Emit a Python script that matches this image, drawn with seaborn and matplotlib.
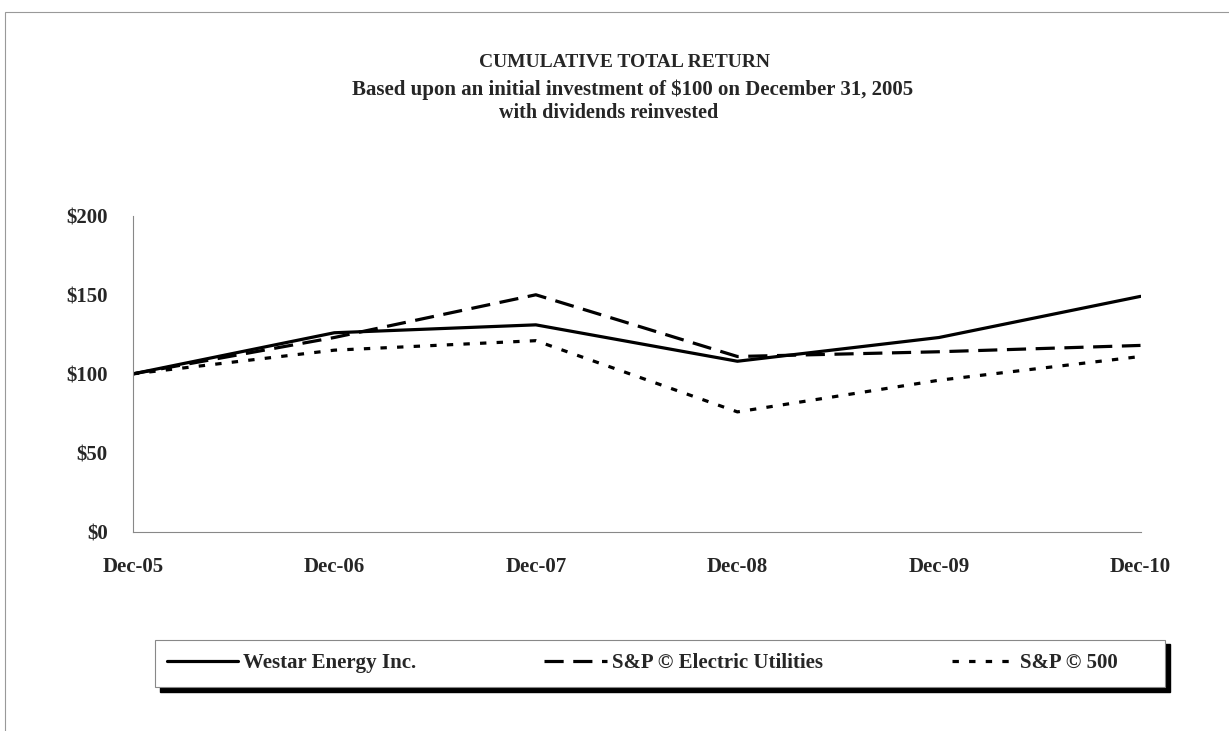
import pandas as pd
import numpy as np
import matplotlib
matplotlib.use("Agg")
import matplotlib.pyplot as plt
from matplotlib.patches import Rectangle
import seaborn as sns

# data
periods = ["Dec-05", "Dec-06", "Dec-07", "Dec-08", "Dec-09", "Dec-10"]
westar = [100, 126, 131, 108, 123, 149]
electric = [100, 123, 150, 111, 114, 118]
sp500 = [100, 115, 121, 76, 96, 111]
series_names = ["Westar Energy Inc.", "S&P \u00a9 Electric Utilities", "S&P \u00a9 500"]
y_ticks = [0, 50, 100, 150, 200]

df = pd.DataFrame({"period": periods * 3,
                   "x": list(range(len(periods))) * 3,
                   "value": westar + electric + sp500,
                   "series": [series_names[0]] * 6 + [series_names[1]] * 6 + [series_names[2]] * 6})

sns.set_style("white")
plt.rcParams["font.family"] = ["Liberation Serif", "DejaVu Serif"]
plt.rcParams["font.weight"] = "bold"

fig = plt.figure(figsize=(12.29, 7.31), dpi=100)
ax = fig.add_axes([0.108, 0.272, 0.82, 0.433])

dash_styles = {series_names[0]: "", series_names[1]: (6, 3), series_names[2]: (2, 3.2)}
sns.lineplot(data=df, x="x", y="value", hue="series", style="series",
             palette=["black"] * 3, dashes=dash_styles,
             linewidth=2.3, ax=ax, legend=False)

ax.set_xlim(0, len(periods) - 1)
ax.set_ylim(0, 200)
ax.set_yticks(y_ticks)
ax.set_yticklabels(["$%d" % v for v in y_ticks], fontsize=15, fontweight="bold")
ax.set_xticks(range(len(periods)))
ax.set_xticklabels(periods, fontsize=15, fontweight="bold")
ax.set_xlabel("")
ax.set_ylabel("")
for s in ["top", "right"]:
    ax.spines[s].set_visible(False)
for s in ["left", "bottom"]:
    ax.spines[s].set_color("#888888")
    ax.spines[s].set_linewidth(0.8)
ax.tick_params(axis="both", direction="out", length=4, width=0.8, color="#888888")
ax.tick_params(axis="y", pad=14)
ax.tick_params(axis="x", pad=14)

fig.text(0.508, 0.915, "CUMULATIVE TOTAL RETURN", ha="center", va="center", fontsize=14, fontweight="bold")
fig.text(0.515, 0.877, "Based upon an initial investment of $100 on December 31, 2005",
         ha="center", va="center", fontsize=15, fontweight="bold")
fig.text(0.495, 0.845, "with dividends reinvested", ha="center", va="center", fontsize=14.5, fontweight="bold")

# page frame
fig.add_artist(Rectangle((0.004, -0.1), 1.2, 1.084, transform=fig.transFigure,
                         fill=False, edgecolor="#999999", linewidth=0.8))

# legend box with black drop shadow
box_x, box_y, box_w, box_h = 0.126, 0.060, 0.822, 0.065
fig.add_artist(Rectangle((box_x + 0.004, box_y - 0.006), box_w, box_h, transform=fig.transFigure,
                         facecolor="black", edgecolor="black", zorder=1))
fig.add_artist(Rectangle((box_x, box_y), box_w, box_h, transform=fig.transFigure,
                         facecolor="white", edgecolor="#888888", linewidth=0.8, zorder=2))

entry_x = [0.136, 0.443, 0.775]
handle_len = [3.4, 3.0, 3.0]
legend_lines = [plt.Line2D([], [], color="black", lw=2.3, linestyle="-"),
                plt.Line2D([], [], color="black", lw=2.3, dashes=(6, 3)),
                plt.Line2D([], [], color="black", lw=2.3, dashes=(2, 3.2))]
for h, name, x0, hl in zip(legend_lines, series_names, entry_x, handle_len):
    leg = fig.legend([h], [name], loc="center left", bbox_to_anchor=(x0, box_y + box_h / 2),
                     frameon=False, handlelength=hl, handletextpad=0.25,
                     borderpad=0, borderaxespad=0,
                     prop={"size": 15, "weight": "bold"})
    leg.set_zorder(3)

plt.savefig("out.png", dpi=100)
